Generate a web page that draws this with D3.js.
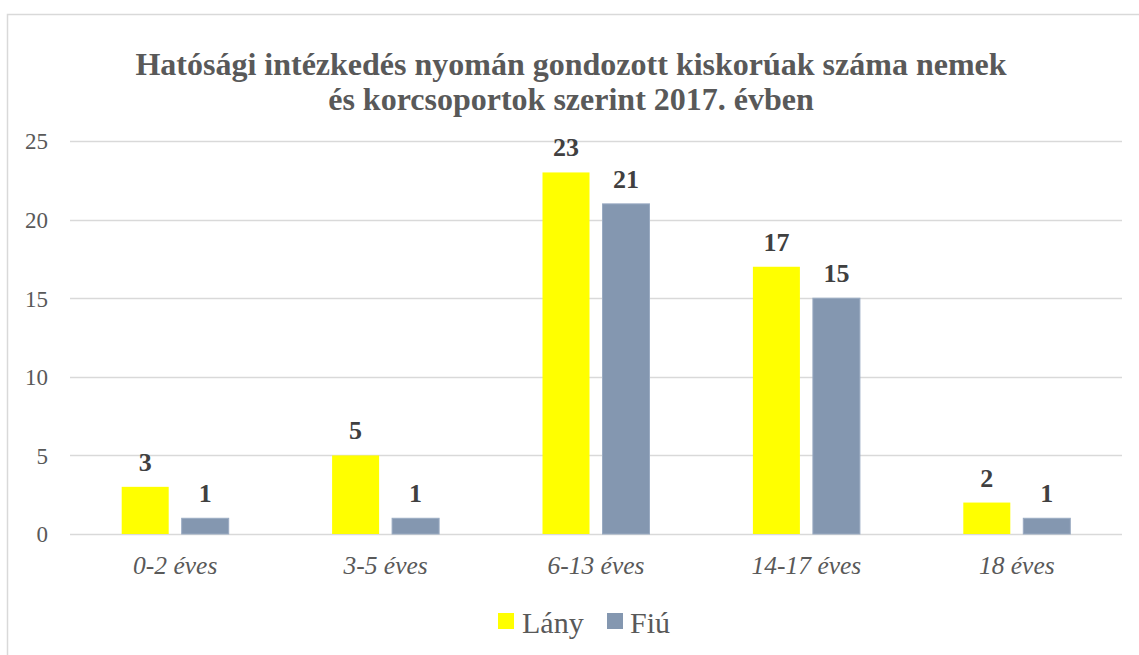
<!DOCTYPE html>
<html>
<head>
<meta charset="utf-8">
<script src="https://cdn.jsdelivr.net/npm/d3@7"></script>
<style>
  html, body { margin: 0; padding: 0; background: #fff; }
  svg { display: block; font-family: "Liberation Serif", "Times New Roman", serif; }
</style>
</head>
<body>
<svg id="chart" width="1139" height="655"></svg>
<script>
// Age groups and counts per sex
const categories = ["0-2 éves", "3-5 éves", "6-13 éves", "14-17 éves", "18 éves"];
const lanyValues = [3, 5, 23, 17, 2];
const fiuValues = [1, 1, 21, 15, 1];
const seriesNames = ["Lány", "Fiú"];
const yTicks = [0, 5, 10, 15, 20, 25];
const titleLines = [
  "Hatósági intézkedés nyomán gondozott kiskorúak száma nemek",
  "és korcsoportok szerint 2017. évben"
];

const colors = { "Lány": "#ffff00", "Fiú": "#8497b0" };
const textColor = "#595959";
const labelColor = "#404040";
const gridColor = "#d9d9d9";

const svg = d3.select("#chart");

// chart frame
svg.append("rect")
  .attr("x", 7.5).attr("y", 14.5)
  .attr("width", 1140).attr("height", 660)
  .attr("fill", "#fff").attr("stroke", gridColor).attr("stroke-width", 1.5);

const plot = { left: 70, right: 1122, top: 141, bottom: 534 };

const x = d3.scaleBand().domain(categories).range([plot.left, plot.right]);
const y = d3.scaleLinear().domain([0, 25]).range([plot.bottom, plot.top]);

const barW = 47, barGap = 13;
const sub = d3.scaleOrdinal().domain(seriesNames)
  .range([-(barW + barGap / 2), barGap / 2]);

// gridlines
svg.append("g").selectAll("line").data(yTicks).join("line")
  .attr("x1", plot.left).attr("x2", plot.right)
  .attr("y1", d => Math.round(y(d)) + 0.5).attr("y2", d => Math.round(y(d)) + 0.5)
  .attr("stroke", gridColor).attr("stroke-width", 1.5);

// y axis labels
const yAxis = d3.axisLeft(y).tickValues(yTicks).tickSize(0).tickPadding(0);
const gy = svg.append("g").attr("transform", "translate(48,0)").call(yAxis);
gy.select(".domain").remove();
gy.selectAll("text")
  .attr("fill", textColor).style("font-size", "23px")
  .style("font-family", "'Liberation Serif', serif").attr("dy", "0.34em");

// x axis labels
const xAxis = d3.axisBottom(x).tickSize(0).tickPadding(0);
const gx = svg.append("g").attr("transform", `translate(0,${plot.bottom})`).call(xAxis);
gx.select(".domain").remove();
gx.selectAll("text")
  .attr("y", 40).attr("dy", 0)
  .attr("fill", textColor).style("font-size", "25.5px").style("font-style", "italic")
  .style("font-family", "'Liberation Serif', serif");

// bars
const rows = categories.map((c, i) => ({ cat: c, values: [
  { name: "Lány", value: lanyValues[i] },
  { name: "Fiú", value: fiuValues[i] }
]}));

const groups = svg.append("g").selectAll("g").data(rows).join("g")
  .attr("transform", d => `translate(${x(d.cat) + x.bandwidth() / 2},0)`);

groups.selectAll("rect").data(d => d.values).join("rect")
  .attr("x", d => sub(d.name))
  .attr("y", d => y(d.value))
  .attr("width", barW)
  .attr("height", d => y(0) - y(d.value))
  .attr("fill", d => colors[d.name])
  .attr("stroke", d => d.name === "Fiú" ? "#9aabc2" : "none")
  .attr("stroke-width", 1);

groups.selectAll("text").data(d => d.values).join("text")
  .attr("x", d => sub(d.name) + barW / 2)
  .attr("y", d => y(d.value) - 16)
  .attr("text-anchor", "middle")
  .attr("fill", labelColor)
  .style("font-size", "26px").style("font-weight", "bold")
  .text(d => d.value);

// title
svg.append("text")
  .attr("x", 571).attr("text-anchor", "middle")
  .attr("fill", textColor).style("font-size", "32px").style("font-weight", "bold")
  .selectAll("tspan").data(titleLines).join("tspan")
  .attr("x", 571).attr("y", (d, i) => 75 + i * 35)
  .text(d => d);

// legend
const legend = svg.append("g");
const legendItems = [
  { name: "Lány", sx: 498, tx: 522 },
  { name: "Fiú", sx: 607, tx: 630 }
];
legend.selectAll("rect").data(legendItems).join("rect")
  .attr("x", d => d.sx).attr("y", 613).attr("width", 16).attr("height", 16)
  .attr("fill", d => colors[d.name]);
legend.selectAll("text").data(legendItems).join("text")
  .attr("x", d => d.tx).attr("y", 633)
  .attr("fill", textColor).style("font-size", "30px")
  .text(d => d.name);
</script>
</body>
</html>
